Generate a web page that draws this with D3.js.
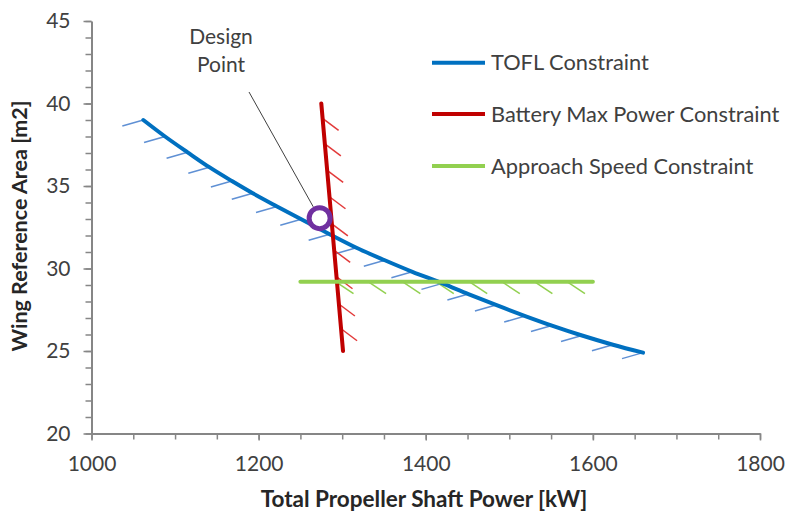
<!DOCTYPE html>
<html>
<head>
<meta charset="utf-8">
<script src="https://cdn.jsdelivr.net/npm/d3@7"></script>
<style>
  body { margin: 0; background: #fff; }
  svg { display: block; font-family: Lato, "Noto Sans", sans-serif; }
</style>
</head>
<body>
<svg id="chart" width="787" height="511"></svg>
<script>
// ---- data ----
// TOFL constraint: wing area vs. shaft power (one hatch per point)
const toflPower = [1062, 1088, 1115, 1141, 1168, 1193, 1222, 1251, 1285, 1317,
                   1351, 1384, 1420, 1451, 1484, 1519, 1551, 1587, 1624, 1660];
const toflArea  = [39.0, 38.0, 37.04, 36.14, 35.3, 34.56, 33.76, 32.98, 32.08, 31.26,
                   30.5, 29.8, 29.1, 28.45, 27.79, 27.12, 26.54, 25.94, 25.38, 24.9];

// Battery max power constraint (straight line) and its hatch stations
const batteryPower = [1275, 1301];
const batteryArea  = [40, 25];
const batteryHatchArea = [39.1, 37.55, 35.95, 34.35, 32.7, 31.1, 29.5, 27.85, 26.35];

// Approach speed constraint (constant wing area) and its hatch stations
const approachPower = [1250, 1600];
const approachArea  = [29.2, 29.2];
const approachHatchPower = [1292, 1331, 1372, 1412, 1452, 1491, 1530, 1569];

// Chosen design point
const designPower = 1273;
const designArea  = 33.05;

// Axes
const xTicks = [1000, 1200, 1400, 1600, 1800];
const yTicks = [20, 25, 30, 35, 40, 45];
const xMinorTicks = d3.range(1000, 1801, 50);
const yMinorTicks = d3.range(20, 46, 1);

const seriesNames = ["TOFL Constraint", "Battery Max Power Constraint", "Approach Speed Constraint"];
const seriesColors = ["#0070C0", "#C00000", "#92D050"];
const hatchColors  = ["#5F90D4", "#E23A3A", "#92D050"];

// ---- layout ----
const svg = d3.select("#chart");
const x = d3.scaleLinear().domain([1000, 1800]).range([91.5, 760]);
const y = d3.scaleLinear().domain([20, 45]).range([433.5, 21]);
const axisColor = "#868686";
const textColor = "#404040";

// minor ticks
svg.append("g").attr("transform", `translate(0,${y(20)})`)
  .call(d3.axisBottom(x).tickValues(xMinorTicks).tickSize(6).tickSizeOuter(0).tickFormat(""))
  .call(g => g.select(".domain").remove())
  .call(g => g.selectAll("line").attr("stroke", axisColor).attr("stroke-width", 1.5));
svg.append("g").attr("transform", `translate(${x(1000)},0)`)
  .call(d3.axisLeft(y).tickValues(yMinorTicks).tickSize(6).tickSizeOuter(0).tickFormat(""))
  .call(g => g.select(".domain").remove())
  .call(g => g.selectAll("line").attr("stroke", axisColor).attr("stroke-width", 1.5));

// major axes
const xAxis = svg.append("g").attr("transform", `translate(0,${y(20)})`)
  .call(d3.axisBottom(x).tickValues(xTicks).tickSize(7).tickSizeOuter(0).tickPadding(16).tickFormat(d3.format("d")));
const yAxis = svg.append("g").attr("transform", `translate(${x(1000)},0)`)
  .call(d3.axisLeft(y).tickValues(yTicks).tickSize(8).tickSizeOuter(0).tickPadding(13).tickFormat(d3.format("d")));
[xAxis, yAxis].forEach(g => {
  g.select(".domain").attr("stroke", axisColor).attr("stroke-width", 2);
  g.selectAll("line").attr("stroke", axisColor).attr("stroke-width", 1.5);
  g.selectAll("text").attr("fill", textColor).style("font-size", "21px").style("font-family", "Lato, sans-serif");
});

// axis titles
svg.append("text")
  .attr("x", 424).attr("y", 507).attr("text-anchor", "middle")
  .attr("fill", "#262626").style("font-size", "22.5px").style("font-weight", "bold")
  .text("Total Propeller Shaft Power [kW]");
svg.append("text")
  .attr("transform", `translate(27,226) rotate(-90)`).attr("text-anchor", "middle")
  .attr("fill", "#262626").style("font-size", "21.5px").style("font-weight", "bold")
  .text("Wing Reference Area [m2]");

// hatch helper
function hatch(g, pts, dx, dy, color) {
  g.selectAll(null).data(pts).join("line")
    .attr("x1", d => d[0]).attr("y1", d => d[1])
    .attr("x2", d => d[0] + dx).attr("y2", d => d[1] + dy)
    .attr("stroke", color).attr("stroke-width", 1.5);
}

const marks = svg.append("g");

// TOFL
const toflPts = toflPower.map((p, i) => [x(p), y(toflArea[i])]);
hatch(marks, toflPts, -21, 6, hatchColors[0]);

// Battery
const battX = a => batteryPower[0] + (a - batteryArea[0]) / (batteryArea[1] - batteryArea[0]) * (batteryPower[1] - batteryPower[0]);
hatch(marks, batteryHatchArea.map(a => [x(battX(a)), y(a)]), 16, 12, hatchColors[1]);

// Approach
hatch(marks, approachHatchPower.map(p => [x(p), y(approachArea[0])]), 18, 12, hatchColors[2]);

const line = d3.line().x(d => d[0]).y(d => d[1]);
marks.append("path").attr("d", line.curve(d3.curveMonotoneX)(toflPts))
  .attr("fill", "none").attr("stroke", seriesColors[0]).attr("stroke-width", 4).attr("stroke-linecap", "round");
marks.append("path").attr("d", d3.line().x(d => d[0]).y(d => d[1])(batteryPower.map((p, i) => [x(p), y(batteryArea[i])])))
  .attr("fill", "none").attr("stroke", seriesColors[1]).attr("stroke-width", 4).attr("stroke-linecap", "round");
marks.append("path").attr("d", d3.line().x(d => d[0]).y(d => d[1])(approachPower.map((p, i) => [x(p), y(approachArea[i])])))
  .attr("fill", "none").attr("stroke", seriesColors[2]).attr("stroke-width", 4).attr("stroke-linecap", "round");

// design point + callout
const cx = x(designPower), cy = y(designArea), r = 10.5;
const labelX = 221;
const leadStart = [249, 92];
const ang = Math.atan2(leadStart[1] - cy, leadStart[0] - cx);
svg.append("line")
  .attr("x1", leadStart[0]).attr("y1", leadStart[1])
  .attr("x2", cx + Math.cos(ang) * (r + 2.5)).attr("y2", cy + Math.sin(ang) * (r + 2.5))
  .attr("stroke", "#404040").attr("stroke-width", 1);
svg.append("circle").attr("cx", cx).attr("cy", cy).attr("r", r)
  .attr("fill", "#fff").attr("stroke", "#7030A0").attr("stroke-width", 5);
const dl = svg.append("text").attr("text-anchor", "middle").attr("fill", textColor).style("font-size", "21px");
dl.append("tspan").attr("x", labelX).attr("y", 44).text("Design");
dl.append("tspan").attr("x", labelX).attr("y", 72).text("Point");

// legend
const legend = svg.append("g");
const legendY = [62.7, 114, 166];
seriesNames.forEach((name, i) => {
  legend.append("line").attr("x1", 432).attr("x2", 485).attr("y1", legendY[i]).attr("y2", legendY[i])
    .attr("stroke", seriesColors[i]).attr("stroke-width", 4);
  legend.append("text").attr("x", 491).attr("y", legendY[i]).attr("dy", "0.35em")
    .attr("fill", textColor).style("font-size", "21.8px").text(name);
});
</script>
</body>
</html>
